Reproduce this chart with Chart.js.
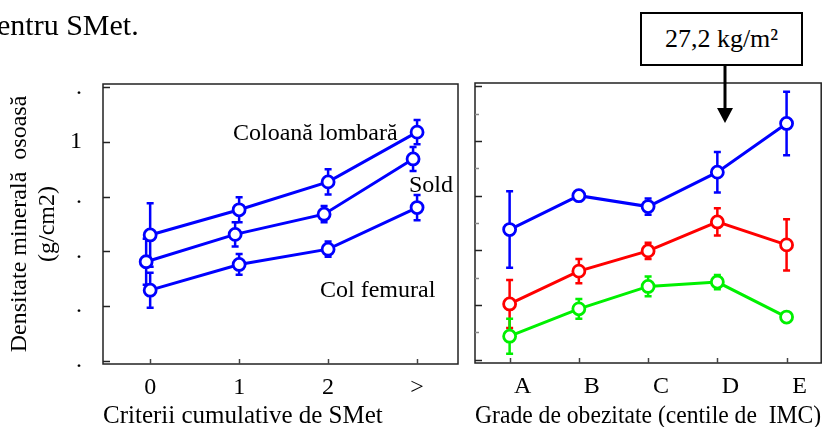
<!DOCTYPE html>
<html>
<head>
<meta charset="utf-8">
<script src="https://cdn.jsdelivr.net/npm/chart.js@4.4.0/dist/chart.umd.min.js"></script>
<style>
    body { margin: 0; background: #fff; width: 830px; height: 427px; overflow: hidden; position: relative;
           font-family: "Liberation Serif", "Times New Roman", serif; color: #000; }
    canvas { position: absolute; top: 0; }
    #leftChart { left: 0; }
    #rightChart { left: 465px; }
    .lbl { position: absolute; font-size: 24px; line-height: 1; white-space: pre; }
    #bmiBox { position: absolute; left: 640px; top: 12px; width: 159px; height: 50px; border: 2px solid #000;
              font-size: 26px; line-height: 50px; text-align: center; background: #fff; }
    #arrow { position: absolute; left: 700px; top: 64px; }
</style>
</head>
<body>
<canvas id="leftChart" width="470" height="427"></canvas>
<canvas id="rightChart" width="365" height="427"></canvas>

<div class="lbl" style="left:-3px; top:10px; font-size:30px;">entru SMet.</div>
<div class="lbl" style="left:233px; top:120px;">Coloană lombară</div>
<div class="lbl" style="left:409px; top:172px;">Sold</div>
<div class="lbl" style="left:320px; top:277px;">Col femural</div>
<div id="bmiBox">27,2 kg/m²</div>
<svg id="arrow" width="50" height="62">
    <line x1="25" y1="0" x2="25" y2="46" stroke="#000" stroke-width="3"/>
    <polygon points="17,44 33,44 25,59" fill="#000"/>
</svg>

<script>
// --- date ---
const yTicks = [0.6, 0.65, 0.7, 0.75, 0.8, 0.85, 0.9, 0.95, 1.0, 1.05, 1.1];
const yTickLabels = ['.', '', '.', '', '.', '', '.', '', '1', '', '.'];

// stanga: criterii cumulative de SMet
const smetTicks = [0, 1, 2, 3];
const smetLabels = ['0', '1', '2', '>'];
const lombarX = [0, 1, 2, 3];
const soldX = [-0.045, 0.955, 1.955, 2.955];
const lombar = [0.830, 0.876, 0.927, 1.018];
const lombarErr = [0.058, 0.023, 0.023, 0.022];
const sold = [0.781, 0.831, 0.868, 0.969];
const soldErr = [0.042, 0.022, 0.015, 0.022];
const femural = [0.729, 0.776, 0.804, 0.880];
const femuralErr = [0.032, 0.019, 0.014, 0.023];

// dreapta: grade de obezitate
const gradeTicks = [0, 1, 2, 3, 4];
const gradeLabels = ['A', 'B', 'C', 'D', 'E'];
const albastru = [0.838, 0.900, 0.880, 0.943, 1.032];
const albastruErr = [0.070, 0, 0.015, 0.037, 0.058];
const rosu = [0.702, 0.762, 0.799, 0.852, 0.810];
const rosuErr = [0.044, 0.022, 0.015, 0.025, 0.047];
const verde = [0.643, 0.693, 0.734, 0.742, 0.678];
const verdeErr = [0.032, 0.018, 0.018, 0.013, 0];

const FONT = '"Liberation Serif", "Times New Roman", serif';

// bare de eroare (desenate sub puncte)
const errorBars = {
    id: 'errorBars',
    beforeDatasetsDraw(chart) {
        const { ctx, scales: { x, y } } = chart;
        chart.data.datasets.forEach(ds => {
            if (!ds.errors) return;
            ctx.save();
            ctx.strokeStyle = ds.borderColor;
            ctx.lineWidth = 2.5;
            ds.data.forEach((p, i) => {
                const e = ds.errors[i];
                if (!e) return;
                const px = x.getPixelForValue(p.x);
                const top = y.getPixelForValue(p.y + e);
                const bot = y.getPixelForValue(p.y - e);
                ctx.beginPath();
                ctx.moveTo(px, top); ctx.lineTo(px, bot);
                ctx.moveTo(px - 3.5, top); ctx.lineTo(px + 3.5, top);
                ctx.moveTo(px - 3.5, bot); ctx.lineTo(px + 3.5, bot);
                ctx.stroke();
            });
            ctx.restore();
        });
    }
};

// cadru + gradatii spre interior
const frameTicks = {
    id: 'frameTicks',
    beforeDatasetsDraw(chart) {
        const { ctx, chartArea: a, scales: { x, y } } = chart;
        ctx.save();
        ctx.strokeStyle = '#222';
        ctx.lineWidth = 1.5;
        ctx.strokeRect(a.left, a.top, a.right - a.left, a.bottom - a.top);
        y.ticks.forEach(t => {
            const py = Math.round(y.getPixelForValue(t.value)) + 0.5;
            const major = Math.round(t.value * 100) % 10 === 0;
            ctx.strokeStyle = major ? '#222' : '#888';
            ctx.beginPath();
            ctx.moveTo(a.left, py);
            ctx.lineTo(a.left + (major ? 7 : 4), py);
            ctx.stroke();
        });
        ctx.strokeStyle = '#444';
        x.ticks.forEach(t => {
            const px = Math.round(x.getPixelForValue(t.value)) + 0.5;
            ctx.beginPath();
            ctx.moveTo(px, a.bottom);
            ctx.lineTo(px, a.bottom - 5);
            ctx.stroke();
        });
        ctx.restore();
    }
};

function serie(xs, ys, errs, color) {
    return {
        data: ys.map((v, i) => ({ x: xs[i], y: v })),
        errors: errs,
        showLine: true,
        borderColor: color,
        borderWidth: 3,
        pointRadius: 6,
        pointBorderWidth: 2.8,
        pointBackgroundColor: '#fff',
        pointBorderColor: color
    };
}

function makeChart(el, datasets, opts) {
    return new Chart(el, {
        type: 'scatter',
        data: { datasets: datasets },
        options: {
            responsive: false,
            animation: false,
            devicePixelRatio: 1,
            layout: { padding: opts.padding },
            plugins: { legend: { display: false }, tooltip: { enabled: false } },
            scales: {
                x: {
                    type: 'linear',
                    min: opts.xMin,
                    max: opts.xMax,
                    grid: { display: false },
                    border: { display: false },
                    afterBuildTicks: s => { s.ticks = opts.xTicks.map(v => ({ value: v })); },
                    afterFit: s => { s.height = opts.xHeight; },
                    ticks: {
                        callback: (v, i) => opts.xLabels[i],
                        font: { family: FONT, size: 24 },
                        color: '#000',
                        padding: 1,
                        maxRotation: 0,
                        labelOffset: opts.labelOffset
                    },
                    title: {
                        display: true,
                        text: opts.xTitle,
                        align: 'start',
                        font: { family: FONT, size: 25, lineHeight: 1.15 },
                        color: '#000',
                        padding: { top: 0, bottom: -4 }
                    }
                },
                y: {
                    min: 0.594,
                    max: 1.106,
                    grid: { display: false },
                    border: { display: false },
                    afterBuildTicks: s => { s.ticks = yTicks.map(v => ({ value: v })); },
                    afterFit: s => { s.width = opts.yWidth; },
                    ticks: {
                        display: opts.yLabels,
                        callback: (v, i) => yTickLabels[i],
                        font: { family: FONT, size: 24 },
                        color: '#000',
                        padding: 13
                    },
                    title: {
                        display: !!opts.yTitle,
                        text: opts.yTitle,
                        font: { family: FONT, size: 24, lineHeight: 1.15 },
                        color: '#000',
                        padding: { top: 6, bottom: 0 }
                    }
                }
            }
        },
        plugins: [frameTicks, errorBars]
    });
}

makeChart(document.getElementById('leftChart'), [
    serie(lombarX, lombar, lombarErr, '#0000ff'),
    serie(soldX, sold, soldErr, '#0000ff'),
    serie(lombarX, femural, femuralErr, '#0000ff')
], {
    padding: { top: 84, right: 12, left: 0, bottom: 0 },
    xMin: -0.53, xMax: 3.46,
    xTicks: smetTicks, xLabels: smetLabels,
    xHeight: 63, yWidth: 103,
    labelOffset: 0,
    xTitle: 'Criterii cumulative de SMet',
    yTitle: ['Densitate minerală  osoasă', '(g/cm2)'],
    yLabels: true
});

makeChart(document.getElementById('rightChart'), [
    serie(gradeTicks, albastru, albastruErr, '#0000ff'),
    serie(gradeTicks, rosu, rosuErr, '#ff0000'),
    serie(gradeTicks, verde, verdeErr, '#00f000')
], {
    padding: { top: 83, right: 1, left: 0, bottom: 0 },
    xMin: -0.5, xMax: 4.5,
    xTicks: gradeTicks, xLabels: gradeLabels,
    xHeight: 64, yWidth: 10,
    labelOffset: 13,
    xTitle: 'Grade de obezitate (centile de  IMC)',
    yTitle: '',
    yLabels: false
});
</script>
</body>
</html>
